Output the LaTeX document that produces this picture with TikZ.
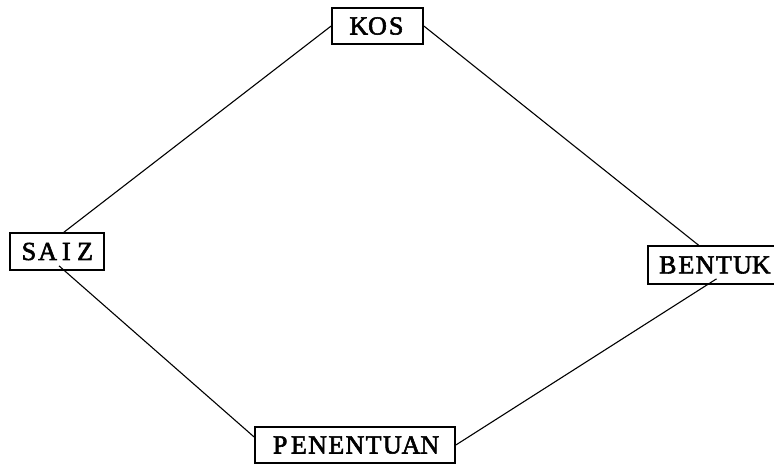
\documentclass[tikz,border=0pt]{standalone}
\usepackage{fontspec}
\newfontfamily\typefont[FakeBold=2.2]{Liberation Serif}
\newcommand{\cell}[1]{\makebox[18.7pt]{#1}}
\tikzset{
  box/.style={draw, line width=1.7pt, inner sep=0pt, minimum height=36pt,
    font=\typefont\fontsize{26}{28}\selectfont},
  link/.style={draw, line width=1.1pt}
}
\begin{document}
\begin{tikzpicture}[x=1pt,y=-1pt]
\useasboundingbox (0,0) rectangle (774,464);
\node[box, minimum width=91pt] (kos) at (377.5,26) {\raisebox{-2pt}{\cell{K}\cell{O}\cell{S}}};
\node[box, minimum width=94pt, minimum height=37pt] (saiz) at (57,251.5) {\raisebox{-2pt}{\cell{S}\cell{A}\cell{I}\cell{Z}}};
\node[box, minimum width=133pt, minimum height=38pt] (bentuk) at (714.5,265) {\raisebox{-2pt}{\cell{B}\cell{E}\cell{N}\cell{T}\cell{U}\cell{K}}};
\node[box, minimum width=200pt] (pen) at (355,445) {\raisebox{-2pt}{\cell{P}\cell{E}\cell{N}\cell{E}\cell{N}\cell{T}\cell{U}\cell{A}\cell{N}}};
\draw[link] (kos.west) -- ([xshift=7pt]saiz.north);
\draw[link] (kos.east) -- ([xshift=-16pt]bentuk.north);
\draw[link] ([xshift=2pt,yshift=5pt]saiz.south) -- ([yshift=8pt]pen.west);
\draw[link] (pen.east) -- ([xshift=2pt,yshift=6pt]bentuk.south);
\end{tikzpicture}
\end{document}
